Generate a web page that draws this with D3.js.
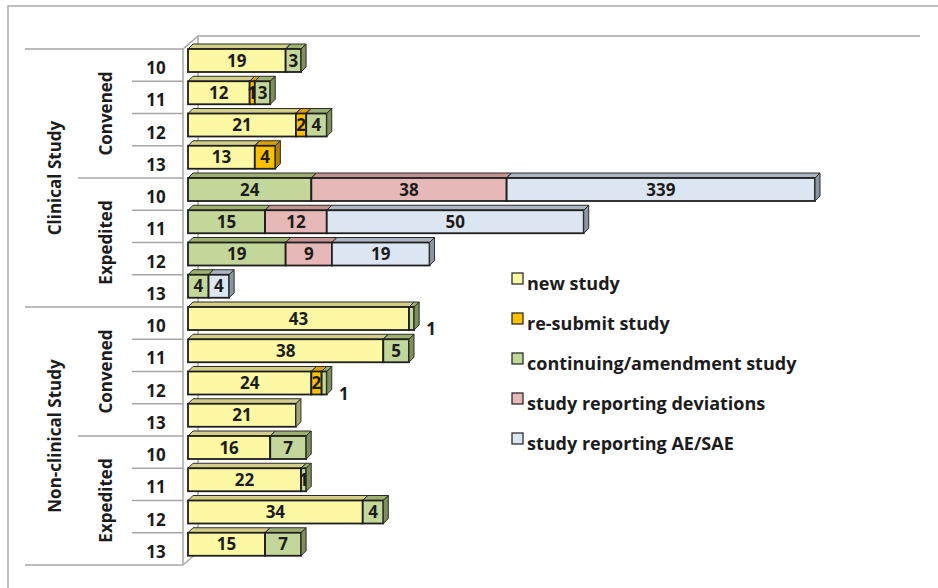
<!DOCTYPE html>
<html>
<head>
<meta charset="utf-8">
<script src="https://cdn.jsdelivr.net/npm/d3@7"></script>
<style>
  html, body { margin: 0; padding: 0; background: #fff; }
  text { font-family: "Open Sans", "DejaVu Sans", sans-serif; font-weight: bold; fill: #1c1c1c; }
</style>
</head>
<body>
<div id="chart"></div>
<script>
// ---- data ----
const studyGroups = ["Clinical Study", "Non-clinical Study"];
const reviewTypes = ["Convened", "Expedited"];
const years = ["10", "11", "12", "13"];
const seriesNames = ["new study", "re-submit study", "continuing/amendment study", "study reporting deviations", "study reporting AE/SAE"];

// one value per row: Clinical/Convened 10-13, Clinical/Expedited 10-13, Non-clinical/Convened 10-13, Non-clinical/Expedited 10-13
const newStudy    = [19, 12, 21, 13,   0,  0,  0, 0,  43, 38, 24, 21,  16, 22, 34, 15];
const resubmit    = [ 0,  1,  2,  4,   0,  0,  0, 0,   0,  0,  2,  0,   0,  0,  0,  0];
const continuing  = [ 3,  3,  4,  0,  24, 15, 19, 4,   1,  5,  1,  0,   7,  1,  4,  7];
const deviations  = [ 0,  0,  0,  0,  38, 12,  9, 0,   0,  0,  0,  0,   0,  0,  0,  0];
const aeSae       = [ 0,  0,  0,  0, 339, 50, 19, 4,   0,  0,  0,  0,   0,  0,  0,  0];
const xMax = 122;   // axis maximum, the 339 bar is cut off
// labels that sit outside the bar end
const outsideLabels = ["Non-clinical Study|Convened|10", "Non-clinical Study|Convened|12"];

const colors = {
  front: ["#fcf8a4", "#ffc000", "#c4d79b", "#e6b9b8", "#dce6f2"],
  top:   ["#d4ce86", "#d9a100", "#9db16f", "#c39492", "#adb6c3"],
  side:  ["#a6a575", "#b08400", "#7e8f5a", "#9c7574", "#8b95a3"]
};

const width = 938, height = 588;
const depth = 5, barH = 23;

const rows = [];
studyGroups.forEach(g => reviewTypes.forEach(t => years.forEach(yv => {
  const i = rows.length;
  rows.push({
    key: `${g}|${t}|${yv}`, group: g, type: t, year: yv,
    s0: newStudy[i], s1: resubmit[i], s2: continuing[i], s3: deviations[i], s4: aeSae[i]
  });
})));
const keys = ["s0", "s1", "s2", "s3", "s4"];

const svg = d3.select("#chart").append("svg")
  .attr("width", width).attr("height", height);

// outer frame
svg.append("path").attr("d", "M8,588 L8,6 L938,6")
  .attr("fill", "none").attr("stroke", "#ababab").attr("stroke-width", 1.5);

const x = d3.scaleLinear().domain([0, xMax]).range([188, 815]).clamp(true);
const y = d3.scaleBand().domain(rows.map(d => d.key)).range([49, 565]);

// walls
const axisX = 183, wallDx = 15, wallDy = -13;
const walls = svg.append("g").attr("fill", "none").attr("stroke", "#a6a6a6").attr("stroke-width", 1.5);
walls.append("path").attr("d", `M${axisX},${y.range()[0]} L${axisX + wallDx},${y.range()[0] + wallDy} L920,${y.range()[0] + wallDy}`);
walls.append("path").attr("d", `M${axisX + wallDx},${y.range()[0] + wallDy} L${axisX + wallDx},${y.range()[1] + wallDy} L${axisX},${y.range()[1]}`);
walls.append("line").attr("x1", axisX).attr("x2", axisX).attr("y1", y.range()[0]).attr("y2", y.range()[1]);

// hierarchical category axis
const lines = svg.append("g").attr("stroke", "#a6a6a6").attr("stroke-width", 1.5);
rows.forEach((d, i) => {
  const yy = y(d.key);
  let x0 = 132;
  if (i % 8 === 0) x0 = 25;
  else if (i % 4 === 0) x0 = 78;
  lines.append("line").attr("x1", x0).attr("x2", axisX).attr("y1", yy).attr("y2", yy);
});
lines.append("line").attr("x1", 25).attr("x2", axisX).attr("y1", y.range()[1]).attr("y2", y.range()[1]);

svg.append("g").selectAll("text").data(rows).join("text")
  .attr("x", 156).attr("y", d => y(d.key) + y.bandwidth() / 2 + 9)
  .attr("text-anchor", "middle").style("font-size", "17px")
  .text(d => d.year);

const typeSpans = [];
studyGroups.forEach(g => reviewTypes.forEach(t => typeSpans.push({ g, t })));
svg.append("g").selectAll("text").data(typeSpans).join("text")
  .attr("transform", d => {
    const a = y(`${d.g}|${d.t}|${years[0]}`), b = y(`${d.g}|${d.t}|${years[years.length - 1]}`) + y.bandwidth();
    return `translate(112,${(a + b) / 2}) rotate(-90)`;
  })
  .attr("text-anchor", "middle").style("font-size", "17px")
  .text(d => d.t);

svg.append("g").selectAll("text").data(studyGroups).join("text")
  .attr("transform", g => {
    const a = y(`${g}|${reviewTypes[0]}|${years[0]}`);
    const b = y(`${g}|${reviewTypes[reviewTypes.length - 1]}|${years[years.length - 1]}`) + y.bandwidth();
    return `translate(61,${(a + b) / 2}) rotate(-90)`;
  })
  .attr("text-anchor", "middle").style("font-size", "17px")
  .text(g => g);

// stacked 3D bars
const stacked = d3.stack().keys(keys)(rows);
const barsG = svg.append("g");
rows.forEach((row, ri) => {
  const y0 = y(row.key);
  const g = barsG.append("g");
  keys.forEach((k, si) => {
    const seg = stacked[si][ri];
    if (seg[1] - seg[0] <= 0) return;
    const x0 = x(seg[0]), x1 = x(seg[1]);
    g.append("path")
      .attr("d", `M${x0},${y0} L${x0 + depth},${y0 - depth} L${x1 + depth},${y0 - depth} L${x1},${y0} Z`)
      .attr("fill", colors.top[si]).attr("stroke", "#2a2a2a").attr("stroke-width", 1);
    g.append("rect")
      .attr("x", x0).attr("y", y0).attr("width", x1 - x0).attr("height", barH)
      .attr("fill", colors.front[si]).attr("stroke", "#1e1e1e").attr("stroke-width", 1.8);
    g.append("path")
      .attr("d", `M${x1},${y0} L${x1 + depth},${y0 - depth} L${x1 + depth},${y0 + barH - depth} L${x1},${y0 + barH} Z`)
      .attr("fill", colors.side[si]).attr("stroke", "#2a2a2a").attr("stroke-width", 1);
  });
});

// value labels
const labelsG = svg.append("g");
rows.forEach((row, ri) => {
  const y0 = y(row.key);
  const lastSi = d3.max(keys.map((k, si) => row[k] > 0 ? si : -1));
  keys.forEach((k, si) => {
    const seg = stacked[si][ri];
    const v = seg[1] - seg[0];
    if (v <= 0) return;
    const outside = si === lastSi && outsideLabels.includes(row.key);
    labelsG.append("text")
      .attr("x", outside ? x(seg[1]) + depth + 12 : (x(seg[0]) + x(seg[1])) / 2)
      .attr("y", outside ? y0 + barH + 5 : y0 + barH / 2 + 6)
      .attr("text-anchor", "middle").style("font-size", "17px")
      .text(v);
  });
});

// legend
const legend = svg.append("g").attr("transform", "translate(512,273)");
const li = legend.selectAll("g").data(seriesNames).join("g")
  .attr("transform", (d, i) => `translate(0,${i * 40})`);
li.append("rect").attr("width", 11).attr("height", 11)
  .attr("fill", (d, i) => colors.front[i]).attr("stroke", "#1e1e1e").attr("stroke-width", 1.2);
li.append("text").attr("x", 15).attr("y", 17).style("font-size", "18px").text(d => d);
</script>
</body>
</html>
